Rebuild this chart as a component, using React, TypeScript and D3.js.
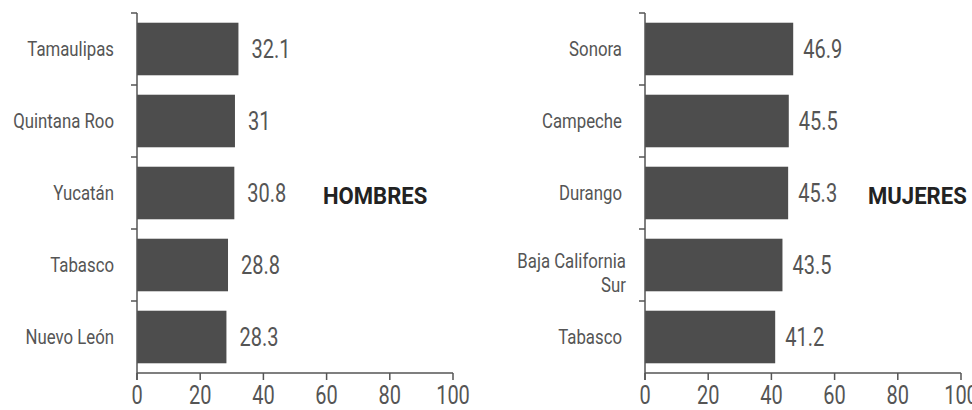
import React, { useEffect } from "react";
import * as d3 from "d3";

const menStates = ["Tamaulipas", "Quintana Roo", "Yucatán", "Tabasco", "Nuevo León"];
const menValues = [32.1, 31, 30.8, 28.8, 28.3];
const menValueLabels = ["32.1", "31", "30.8", "28.8", "28.3"];

const womenStates = ["Sonora", "Campeche", "Durango", "Baja California Sur", "Tabasco"];
const womenValues = [46.9, 45.5, 45.3, 43.5, 41.2];
const womenValueLabels = ["46.9", "45.5", "45.3", "43.5", "41.2"];

const xTicks = [0, 20, 40, 60, 80, 100];
const panelTitles = ["HOMBRES", "MUJERES"];

const FONT = "Roboto, 'Liberation Sans', sans-serif";
const BAR = "#4d4d4d";
const AXIS = "#555";
const TEXT = "#555";

function CText({ x, y, size, anchor = "start", weight = "normal", fill = TEXT, sx = 0.8, children }: any) {
  return (
    <text transform={`translate(${x},${y}) scale(${sx},1)`} textAnchor={anchor} fontFamily={FONT} fontSize={size} fontWeight={weight} fill={fill}>
      {children}
    </text>
  );
}

function labelLines(s: string): string[] {
  if (s === "Baja California Sur") return ["Baja California", "Sur"];
  return [s];
}

function Panel({ x0, x1, states, values, valueLabels, title, titleX, valueGap }: any) {
  const x = d3.scaleLinear().domain([0, 100]).range([x0, x1]);
  const y = d3.scaleBand<string>().domain(states.map((s: string, i: number) => i + "")).range([13, 373]).paddingInner(0.27).paddingOuter(0.135);
  const step = y.step();
  const yTop = 13;
  const yBottom = 373;
  return (
    <g>
      {values.map((v: number, i: number) => (
        <rect key={"b" + i} x={x(0)} y={y(i + "")!} width={x(v) - x(0)} height={y.bandwidth()} fill={BAR} />
      ))}
      <line x1={x(0)} x2={x(0)} y1={yTop} y2={yBottom + 7} stroke={AXIS} strokeWidth={1.5} />
      {states.map((_: string, i: number) => (
        <line key={"yt" + i} x1={x(0) - 6} x2={x(0)} y1={yTop + step * i} y2={yTop + step * i} stroke={AXIS} strokeWidth={1.5} />
      ))}
      <line x1={x(0)} x2={x(100)} y1={yBottom} y2={yBottom} stroke={AXIS} strokeWidth={1.5} />
      {xTicks.map((t) => (
        <g key={"xt" + t}>
          <line x1={x(t)} x2={x(t)} y1={yBottom} y2={yBottom + 7} stroke={AXIS} strokeWidth={1.5} />
          <CText x={x(t)} y={404} size={25} anchor="middle">{t}</CText>
        </g>
      ))}
      {states.map((s: string, i: number) => {
        const lines = labelLines(s);
        const c = y(i + "")! + y.bandwidth() / 2;
        if (lines.length === 1) {
          return <CText key={"c" + i} x={x(0) - 23} y={c + 6.5} size={20} sx={0.84} anchor="end">{s}</CText>;
        }
        return (
          <g key={"c" + i}>
            {lines.map((l, k) => (
              <CText key={k} x={x(0) - 19} y={c + 3 + 24 * k} size={20} sx={0.84} anchor="end">{l}</CText>
            ))}
          </g>
        );
      })}
      {values.map((v: number, i: number) => (
        <CText key={"v" + i} x={x(v) + valueGap} y={y(i + "")! + y.bandwidth() / 2 + 8.5} size={25}>{valueLabels[i]}</CText>
      ))}
      <CText x={titleX} y={y("2")! + y.bandwidth() / 2 + 11} size={24} sx={0.92} weight="bold" fill="#222">{title}</CText>
    </g>
  );
}

export default function App() {
  useEffect(() => {
    document.body.style.margin = "0";
  }, []);
  return (
    <svg width={972} height={410} style={{ display: "block", background: "#fff" }}>
      <Panel x0={137} x1={453} states={menStates} values={menValues} valueLabels={menValueLabels} title={panelTitles[0]} titleX={323} valueGap={13} />
      <Panel x0={645} x1={961} states={womenStates} values={womenValues} valueLabels={womenValueLabels} title={panelTitles[1]} titleX={868} valueGap={10} />
    </svg>
  );
}
